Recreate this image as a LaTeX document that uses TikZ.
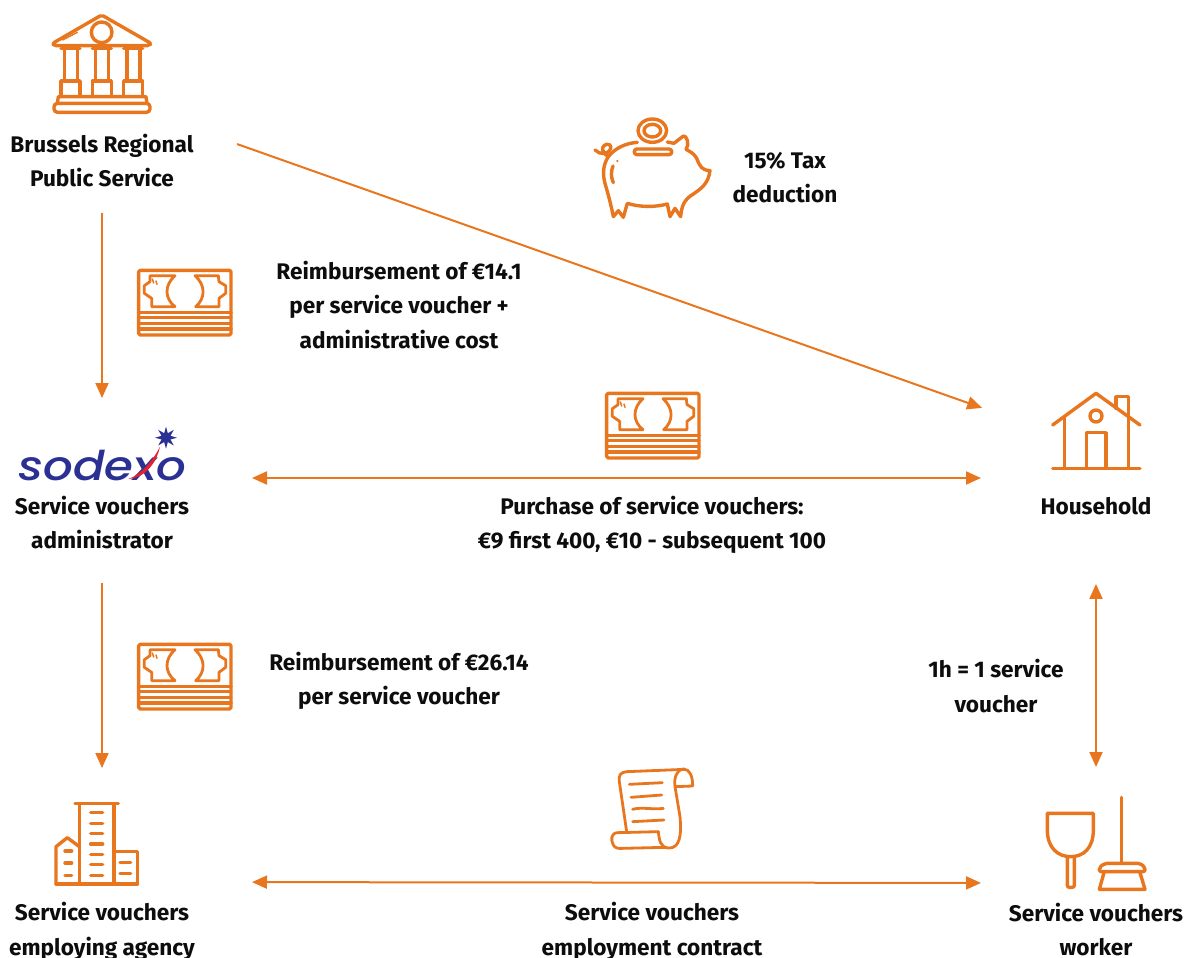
\documentclass[tikz,border=0pt]{standalone}
\usepackage{fontspec}
\setmainfont{Fira Sans}
\newfontfamily\logofont{Poppins Medium}
\usetikzlibrary{arrows.meta,shapes.geometric}
\definecolor{iconorange}{HTML}{E8761F}
\definecolor{logoblue}{HTML}{2B3192}
\definecolor{logored}{HTML}{E6212E}
\tikzset{
	iconline/.style={draw=iconorange, line width=3.4pt, line cap=round, line join=round},
	money/.pic={
		\begin{scope}[scale=1/3, iconline]
			\draw[rounded corners=1.5pt] (41,172) -- (41,46) -- (318,46) -- (318,172);
			\draw[rounded corners=1.5pt] (41,172) -- (41,240) -- (318,240) -- (318,172);
			\foreach \y in {172, 188, 205, 222}
				\draw (41,\y) -- (318,\y);
			\draw[line width=2.8pt] (75,62) -- (150,62) .. controls (118,90) and (118,130) .. (150,155)
				-- (80,155) -- (80,130) -- (58,115) -- (58,92) -- (75,80) -- cycle;
			\draw[line width=2.8pt] (210,62) -- (280,62) -- (282,80) -- (302,92) -- (302,115) -- (282,130)
				-- (282,155) -- (212,155) .. controls (242,130) and (242,90) .. (210,62) -- cycle;
			\draw[line width=1.5pt] (82,72) -- (86,84) (93,78) -- (96,88);
		\end{scope}
	},
	bank/.pic={
		\begin{scope}[scale=1/3, iconline]
			\draw[rounded corners=2pt] (305,45) -- (158,130) -- (162,137) -- (448,137) -- (453,130) -- cycle;
			\draw (305,97) circle [radius=31];
			\draw[line width=1.4pt] (188,120) -- (232,97);
			\foreach \x in {0, 94, 188}
			{
				\draw (\x+183,145) -- (\x+240,145);
				\draw (\x+193,150) -- (\x+193,243) (\x+232,150) -- (\x+232,243);
				\draw (\x+183,288) -- (\x+183,243) -- (\x+240,243) -- (\x+240,288);
			}
			\draw (172,310) -- (175,290) -- (438,290) -- (441,310);
			\draw[rounded corners=3.5pt] (162,310) rectangle (450,337);
		\end{scope}
	},
	pig/.pic={
		\begin{scope}[scale=1/3, iconline]
			\draw (172,127) .. controls (135,130) and (105,145) .. (85,170)
				.. controls (68,195) and (68,225) .. (75,250) .. controls (85,285) and (92,310) .. (100,350)
				-- (115,332) -- (130,352) -- (142,310) .. controls (180,322) and (225,322) .. (262,312)
				-- (270,350) -- (285,325) -- (302,350) .. controls (305,320) and (310,300) .. (340,282)
				.. controls (365,265) and (385,250) .. (390,212) .. controls (365,210) and (360,200) .. (350,175)
				.. controls (342,160) and (330,155) .. (318,148) .. controls (330,135) and (320,105) .. (310,108)
				-- (282,130) -- (262,126);
			\draw (45,150) .. controls (60,165) and (85,165) .. (92,145) .. controls (95,125) and (65,130) .. (68,150)
				.. controls (70,160) and (78,165) .. (85,170);
			\draw (217,92) ellipse [x radius=43, y radius=35];
			\draw (217,92) ellipse [x radius=25, y radius=19];
			\draw[rounded corners=2.5pt] (163,147) -- (275,147) -- (275,164) -- (163,164) -- cycle;
			\draw (99,198) .. controls (92,215) and (93,232) .. (100,248);
			\fill[iconorange] (112,183) circle [radius=4];
		\end{scope}
	},
	house/.pic={
		\begin{scope}[scale=1/3, iconline]
			\draw (68,135) -- (198,40) -- (330,135);
			\draw (258,85) -- (258,50) -- (295,50) -- (295,108);
			\draw (103,113) -- (103,265) (295,108) -- (295,265);
			\draw (68,265) -- (330,265);
			\draw (170,265) -- (170,158) -- (228,158) -- (228,265);
			\draw (198,108) circle [radius=18];
		\end{scope}
	},
	office/.pic={
		\begin{scope}[scale=1/3, iconline]
			\draw (105,41) -- (235,41);
			\draw (118,41) -- (118,282) (222,41) -- (222,282);
			\draw (48,282) -- (292,282);
			\draw (48,282) -- (48,170) -- (82,143) -- (118,170);
			\draw (222,185) -- (292,185) -- (292,282);
			\foreach \y in {68, 100, 131, 162, 193, 224, 256}
				\draw (152,\y) -- (188,\y);
			\foreach \y in {183, 219, 256}
				\draw (75,\y) -- (95,\y);
			\foreach \y in {218, 250}
				\draw (240,\y) -- (272,\y);
		\end{scope}
	},
	scroll/.pic={
		\begin{scope}[scale=1/3, iconline, line width=2.8pt]
			\draw (255,28) -- (80,35) .. controls (62,37) and (55,45) .. (58,65) -- (80,215);
			\draw (175,215) -- (52,218) .. controls (32,220) and (32,240) .. (40,255) .. controls (45,265) and (55,266) .. (70,265)
				-- (195,262);
			\draw (175,215) .. controls (178,240) and (180,262) .. (205,264) .. controls (240,266) and (245,225) .. (240,170)
				-- (225,80) .. controls (222,55) and (228,30) .. (250,27) .. controls (270,27) and (278,50) .. (278,78) -- (225,80);
			\draw (88,73) -- (187,68);
			\draw (93,112) -- (185,105);
			\draw (98,148) .. controls (125,140) and (160,150) .. (190,145);
			\draw (98,185) -- (192,180);
		\end{scope}
	},
	broom/.pic={
		\begin{scope}[scale=1/3, iconline]
			\draw (52,70) -- (190,70) -- (190,120) .. controls (190,175) and (160,200) .. (122,200)
				.. controls (85,200) and (52,175) .. (52,120) -- cycle;
			\draw[rounded corners=2pt] (112,202) -- (112,292) -- (133,292) -- (133,202);
			\draw (274,22) -- (274,218);
			\draw[rounded corners=2pt] (208,245) -- (208,232) -- (225,220) -- (330,220) -- (345,232) -- (345,245) -- cycle;
			\draw (222,248) -- (208,298) -- (345,298) -- (330,248);
		\end{scope}
	},
	sodexologo/.pic={
		\begin{scope}[scale=1/3]
			\fill[logored] (385,192) .. controls (425,178) and (460,135) .. (480,95) .. controls (468,150) and (430,190) .. (385,192) -- cycle;
			\node (logostar) at (498,68) [star, star points=8, star point ratio=2.3, fill=logoblue, inner sep=0pt, minimum size=22pt] {};
		\end{scope}
	}
}
\begin{document}
\begin{tikzpicture}[x=1pt, y=-1pt,
			label/.style={
				inner sep = 0pt,
				align = center,
				text = black!95,
				font = \fontsize{22.6}{34.5}\selectfont\bfseries},
			iconbox/.style={
				inner sep = 0pt,
				outer sep = 0pt},
			flow/.style={
				draw = iconorange,
				line width = 2pt,
				-{Triangle[length=15pt,width=13pt]}},
			twoway/.style={
				flow,
				{Triangle[length=15pt,width=13pt]}-{Triangle[length=15pt,width=13pt]}}]
			\useasboundingbox (0, 0) rectangle (1184, 958);
			% icons
			\pic at (0, 0) {bank};
			\pic at (580, 100) {pig};
			\pic at (125, 255) {money};
			\pic at (593, 378) {money};
			\pic at (125, 629) {money};
			\pic at (1030, 380) {house};
			\pic at (40, 790) {office};
			\pic at (600, 760) {scroll};
			\pic at (1030, 790) {broom};
			% boxes the connectors attach to
			\node (sodexo) at (102, 453) [iconbox, minimum width=166pt, minimum height=50pt] {};
			\node (house) at (1096, 435) [iconbox, minimum width=92pt, minimum height=86pt] {};
			\node (office) at (102, 842) [iconbox, minimum width=104pt, minimum height=80pt] {};
			\node (broom) at (1096, 840) [iconbox, minimum width=100pt, minimum height=86pt] {};
			\node (logotext) at (102.5, 466) [inner sep=0pt, text=logoblue, font=\fontsize{41}{41}\selectfont\logofont\itshape, xscale=1.14, transform shape] {sodexo};
			\pic at (0, 415) {sodexologo};
			% texts
			\node (brussels) at (102, 160.5) [label] {Brussels Regional\\Public Service};
			\node (admin) at (102, 522.5) [label] {Service vouchers\\administrator};
			\node (agency) at (102, 931.5) [label] {Service vouchers\\employing agency};
			\node (household) at (1096, 506) [label] {Household};
			\node (worker) at (1096, 929.5) [label] {Service vouchers\\worker};
			\node (taxlabel) at (785, 177.5) [label] {15\% Tax\\deduction};
			\node (costlabel) at (399, 305) [label] {Reimbursement of €14.1\\per service voucher +\\administrative cost};
			\node (purchaselabel) at (652, 525) [label] {Purchase of service vouchers:\\€9 first 400, €10 - subsequent 100};
			\node (refundlabel) at (399, 681) [label] {Reimbursement of €26.14\\per service voucher};
			\node (hourlabel) at (996, 686) [label] {1h = 1 service\\voucher};
			\node (contractlabel) at (652, 931.5) [label] {Service vouchers\\employment contract};
			% connectors
			\draw[flow, shorten <=26pt, shorten >=30pt] (brussels.south) -- (sodexo.north);
			\draw[flow, shorten <=34pt, shorten >=34pt] (admin.south) -- (office.north);
			\draw[flow, shorten <=46pt, shorten >=72pt] ([yshift=5pt]brussels.north east) -- ([yshift=3pt]house.west);
			\draw[twoway, shorten <=67pt, shorten >=69pt] (sodexo.south east) -- (house.south west);
			\draw[twoway, shorten <=98pt, shorten >=65pt] (office.south east) -- (broom.south west);
			\draw[twoway, shorten <=69pt, shorten >=30pt] (household.south) -- (broom.north);
			\end{tikzpicture}
\end{document}
